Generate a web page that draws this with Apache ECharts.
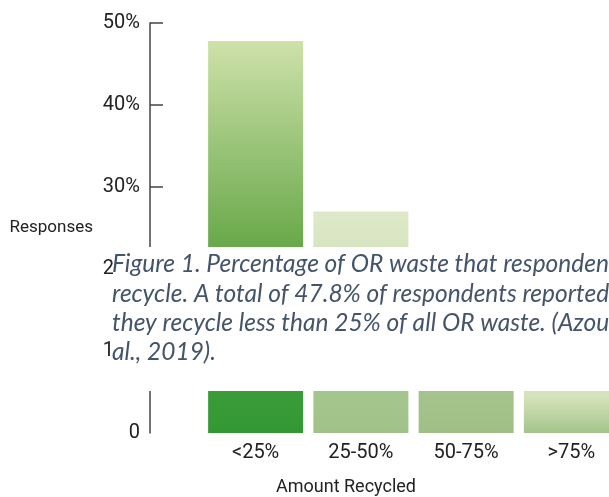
<!DOCTYPE html>
<html>
<head>
<meta charset="utf-8">
<script src="https://cdn.jsdelivr.net/npm/echarts@6/dist/echarts.min.js"></script>
<style>html,body{margin:0;padding:0;background:#fff}#c{width:609px;height:497px}</style>
</head>
<body>
<div id="c"></div>
<script>
var categories = ['<25%', '25-50%', '50-75%', '>75%'];
var responses = [47.8, 27, 14, 11];
var yTicks = [0, 10, 20, 30, 40, 50];
var captionLines = [
  'Figure 1. Percentage of OR waste that respondents',
  'recycle. A total of 47.8% of respondents reported that',
  'they recycle less than 25% of all OR waste. (Azouz et',
  'al., 2019).'
];

var gradients = [
  [[0, '#cee1a9'], [0.52, '#69a94b'], [0.9, '#3a9c38'], [1, '#339833']],
  [[0, '#dde9c8'], [0.15, '#d8e5c2'], [0.81, '#a5c68c'], [1, '#a0c187']],
  [[0, '#cfe1b0'], [0.65, '#a5c38c'], [1, '#a0bf87']],
  [[0, '#e2edd2'], [0.6, '#d4e3b9'], [1, '#a4c48b']]
];

var font = 'Roboto, sans-serif';
var chart = echarts.init(document.getElementById('c'), null, {renderer: 'canvas'});

var data = responses.map(function (v, i) {
  return {
    value: v,
    itemStyle: {
      color: {
        type: 'linear', x: 0, y: 0, x2: 0, y2: 1,
        colorStops: gradients[i].map(function (s) { return {offset: s[0], color: s[1]}; })
      }
    }
  };
});

var captionGraphics = captionLines.map(function (t, i) {
  return {
    type: 'text', left: 112, top: 252 + i * 29.2, z: 101,
    style: {text: t, fill: '#44546a', font: 'italic 24.5px Lato, sans-serif'}
  };
});

chart.setOption({
  animation: false,
  grid: {left: 203, top: 23, width: 421, height: 410, outerBoundsMode: 'none'},
  xAxis: {
    type: 'category', data: categories,
    axisLine: {show: false}, axisTick: {show: false},
    axisLabel: {margin: 10, fontSize: 20, color: '#222', fontFamily: font}
  },
  yAxis: {
    type: 'value', min: yTicks[0], max: yTicks[yTicks.length - 1], interval: 10,
    offset: 53,
    name: 'Responses', nameLocation: 'middle', nameRotate: 0, nameGap: 57,
    nameTextStyle: {fontSize: 17, color: '#222', fontFamily: font, align: 'right'},
    axisLine: {show: true, lineStyle: {color: '#444', width: 1.5}},
    axisTick: {show: true, inside: true, length: 13, lineStyle: {color: '#444', width: 1.5},
               customValues: yTicks.slice(1)},
    splitLine: {show: false},
    axisLabel: {
      margin: 10, fontSize: 20, color: '#222', fontFamily: font,
      padding: [5, 0, 0, 0],
      customValues: yTicks,
      formatter: function (v) { return v === 0 ? '0' : v + '%'; }
    }
  },
  series: [{
    type: 'bar', data: data, barWidth: 95
  }],
  graphic: [
    {type: 'rect', z: 100, shape: {x: 113, y: 247, width: 496, height: 144}, style: {fill: '#fff'}},
    {type: 'text', left: 276, top: 478, z: 101,
     style: {text: 'Amount Recycled', fill: '#222', font: '18px Roboto, sans-serif'}}
  ].concat(captionGraphics)
});
</script>
</body>
</html>
